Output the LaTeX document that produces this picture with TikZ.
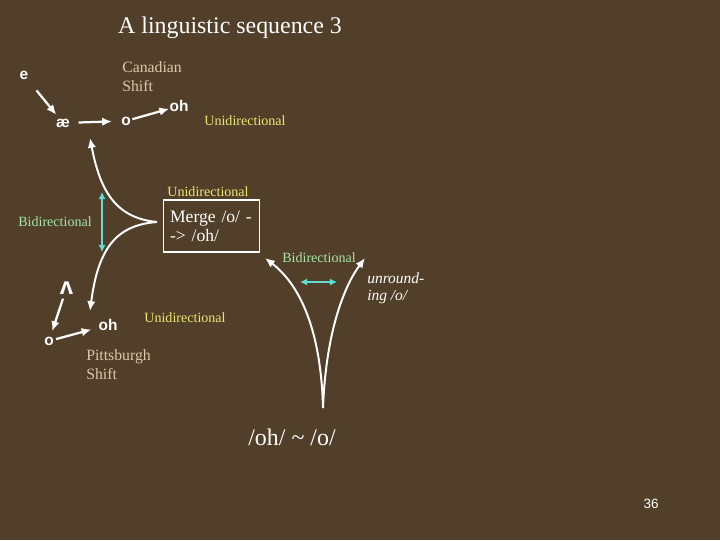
\documentclass[tikz,border=0pt]{standalone}
\usepackage{fontspec}
\setmainfont{Liberation Serif}
\setsansfont{Liberation Sans}
\usetikzlibrary{arrows.meta}
\definecolor{slidebg}{RGB}{82,63,42}
\definecolor{shifttan}{RGB}{218,200,172}
\definecolor{uniyellow}{RGB}{232,232,112}
\definecolor{bigreen}{RGB}{165,228,165}
\definecolor{linkcyan}{RGB}{100,222,212}
\tikzset{
  sound/.style={text=white, font=\sffamily\bfseries\fontsize{11}{13}\selectfont, inner sep=0pt},
  shiftname/.style={text=shifttan, font=\fontsize{11.2}{13.5}\selectfont, align=left, anchor=west, inner sep=0pt},
  uni/.style={text=uniyellow, font=\fontsize{10}{12}\selectfont, inner sep=0pt},
  bi/.style={text=bigreen, font=\fontsize{10}{12}\selectfont, inner sep=0pt},
  mergebox/.style={draw=white, line width=0.8pt, text=white, align=left, font=\fontsize{12.5}{13.5}\selectfont, text width=2.07cm, minimum height=1.3cm, inner xsep=0.175cm},
  flow/.style={-{Latex[length=7pt,width=6pt]}, white, line width=1.6pt},
  curveflow/.style={flow, line width=1.4pt},
  bilink/.style={{Latex[length=5pt,width=5pt]}-{Latex[length=5pt,width=5pt]}, linkcyan, line width=1.5pt}
}

\begin{document}
\begin{tikzpicture}[x=0.025cm,y=-0.025cm]
  \fill[slidebg] (0,0) rectangle (720,540);
  \useasboundingbox (0,0) rectangle (720,540);

  \node[text=white, font=\fontsize{17}{20}\selectfont] (title) at (230,27.5) {A linguistic sequence 3};

  % Canadian shift
  \node[sound] (e) at (24,75) {e};
  \node[sound] (ae) at (63,123) {æ};
  \node[sound] (ocan) at (126,121) {o};
  \node[sound] (ohcan) at (179,106) {oh};
  \node[shiftname] (canshift) at (122,77) {Canadian\\Shift};
  \node[uni] (uni1) at (245,121) {Unidirectional};

  \draw[flow, shorten <=10pt, shorten >=3.5pt] (e) -- (ae);
  \draw[flow, shorten <=6pt, shorten >=6.4pt] (ae) -- (ocan);
  \draw[flow, shorten <=1pt] (ocan) -- (ohcan);

  % merge
  \coordinate (cusp) at (157,222);
  \coordinate (uptip) at (90,138);
  \coordinate (lowtip) at (90,311);
  \draw[curveflow] (cusp) .. controls (115,218) and (100,190) .. (uptip);
  \draw[curveflow] (cusp) .. controls (115,225) and (98,250) .. (lowtip);
  \coordinate (bitop) at (102,192);
  \coordinate (bibot) at (102,252);
  \draw[bilink] (bitop) -- (bibot);
  \node[bi] (bi1) at (55,222) {Bidirectional};
  \node[uni] (uni2) at (208,192) {Unidirectional};
  \node[mergebox] (merge) at (211.5,226) {Merge /o/ -\\-> /oh/};

  % Pittsburgh shift
  \node[sound, font=\sffamily\bfseries\fontsize{17}{18}\selectfont] (wedge) at (66.5,288) {ʌ};
  \node[sound] (opit) at (49,341) {o};
  \node[sound] (ohpit) at (108,325) {oh};
  \node[shiftname] (pitshift) at (86,365) {Pittsburgh\\Shift};
  \node[uni] (uni3) at (185,318) {Unidirectional};

  \draw[flow, shorten <=3pt, shorten >=4pt] (wedge) -- (opit);
  \draw[flow, shorten <=1.5pt, shorten >=5pt] (opit) -- (ohpit);

  % unrounding
  \coordinate (vbase) at (323,408);
  \coordinate (vleft) at (265,258);
  \coordinate (vright) at (365,258);
  \draw[curveflow] (vbase) .. controls (321,330) and (300,285) .. (vleft);
  \draw[curveflow] (vbase) .. controls (326,330) and (345,285) .. (vright);
  \coordinate (bileft) at (300,282);
  \coordinate (biright) at (337,282);
  \draw[bilink] (bileft) -- (biright);
  \node[bi] (bi2) at (319,258) {Bidirectional};
  \node[text=white, font=\itshape\fontsize{11}{12}\selectfont, align=left, anchor=west, inner sep=0pt] (unround) at (367,288) {unround-\\ing /o/};
  \node[text=white, font=\fontsize{17}{20}\selectfont] (merger) at (292,437) {/oh/ \textasciitilde{} /o/};

  \node[text=white, font=\sffamily\fontsize{9.6}{11}\selectfont] (page) at (651,504) {36};
\end{tikzpicture}
\end{document}
